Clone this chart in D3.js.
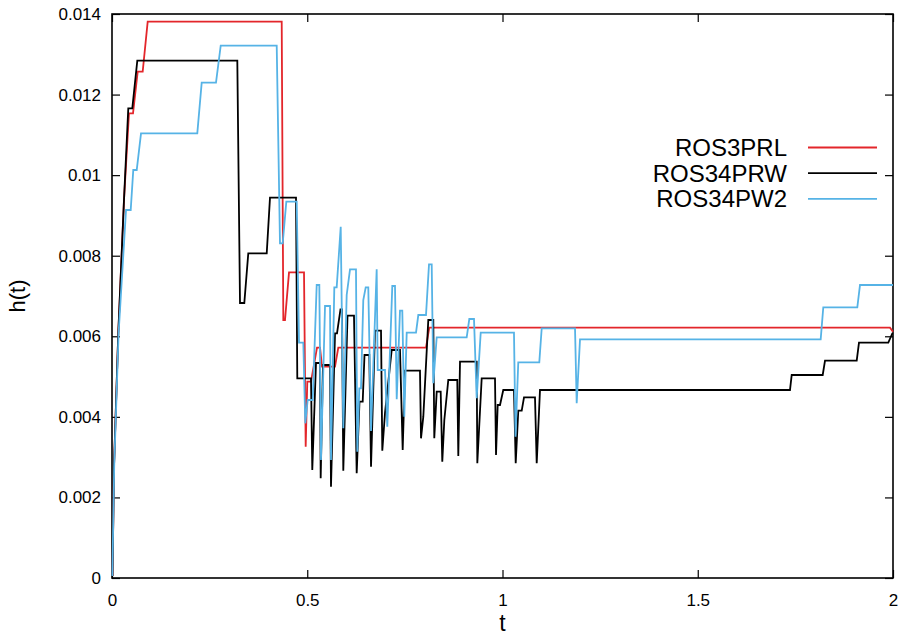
<!DOCTYPE html>
<html>
<head>
<meta charset="utf-8">
<script src="https://cdn.jsdelivr.net/npm/d3@7"></script>
<style>
  body { margin: 0; background: #fff; }
  svg { display: block; font-family: "Liberation Sans", Arial, Helvetica, sans-serif; }
</style>
</head>
<body>
<svg id="chart" width="901" height="635"></svg>
<script>
// step size h(t) of three Rosenbrock solvers, corner points
var seriesNames = ['ROS3PRL', 'ROS34PRW', 'ROS34PW2'];

var tRed = [0.0013, 0.0051, 0.0161, 0.0307, 0.0435, 0.0538, 0.0658, 0.0786, 0.0914, 0.4346,
  0.4387, 0.4430, 0.4533, 0.4917, 0.4960, 0.5001, 0.5096, 0.5250, 0.5327, 0.5378,
  0.5711, 0.5795, 0.8041, 0.8125, 1.9923, 2.0];
var hRed = [0.00005, 0.002755, 0.006082, 0.009383, 0.011535, 0.011535, 0.012568, 0.012568, 0.013809, 0.013809,
  0.006404, 0.006404, 0.007588, 0.007588, 0.003259, 0.004873, 0.004873, 0.005717, 0.005717, 0.005245,
  0.005245, 0.005717, 0.005717, 0.006213, 0.006213, 0.006114];

var tBlack = [0.0013, 0.0051, 0.0161, 0.0307, 0.0417, 0.0520, 0.0648, 0.3209, 0.3278, 0.3388,
  0.3490, 0.3962, 0.4046, 0.4712, 0.4745, 0.5096, 0.5129, 0.5224, 0.5327, 0.5344,
  0.5403, 0.5583, 0.5608, 0.5711, 0.5762, 0.5851, 0.5890, 0.5923, 0.6031, 0.6197,
  0.6266, 0.6338, 0.6420, 0.6466, 0.6589, 0.6633, 0.6735, 0.6889, 0.6922, 0.6991,
  0.7163, 0.7375, 0.7444, 0.7503, 0.7887, 0.7913, 0.7972, 0.8100, 0.8228, 0.8253,
  0.8315, 0.8417, 0.8458, 0.8510, 0.8612, 0.8842, 0.8868, 0.8912, 0.9339, 0.9355,
  0.9467, 0.9808, 0.9834, 0.9877, 0.9936, 1.0020, 1.0294, 1.0338, 1.0404, 1.0492,
  1.0551, 1.0832, 1.0876, 1.0960, 1.7362, 1.7406, 1.8200, 1.8259, 1.9071, 1.9129,
  1.9880, 1.9987];
var hBlack = [0.00005, 0.002755, 0.006082, 0.009383, 0.011659, 0.011659, 0.012841, 0.012841, 0.006826, 0.006826,
  0.008060, 0.008060, 0.009440, 0.009440, 0.004957, 0.004957, 0.002681, 0.005337, 0.005337, 0.002475,
  0.005287, 0.005287, 0.002266, 0.006074, 0.006074, 0.006670, 0.006670, 0.002664, 0.006511, 0.006511,
  0.002599, 0.004376, 0.004376, 0.005536, 0.005536, 0.002763, 0.006139, 0.006139, 0.003160, 0.004096,
  0.005660, 0.005660, 0.003177, 0.005146, 0.005146, 0.003468, 0.004004, 0.006404, 0.006404, 0.003468,
  0.004625, 0.004625, 0.002887, 0.003922, 0.004915, 0.004915, 0.003028, 0.005369, 0.005369, 0.002847,
  0.004957, 0.004957, 0.003053, 0.004294, 0.004294, 0.004667, 0.004667, 0.002847, 0.004153, 0.004153,
  0.004485, 0.004485, 0.002847, 0.004667, 0.004667, 0.005039, 0.005039, 0.005394, 0.005394, 0.005841,
  0.005841, 0.006082];

var tBlue = [0.0008, 0.0056, 0.0169, 0.0359, 0.0479, 0.0545, 0.0633, 0.0743, 0.2184, 0.2297,
  0.2663, 0.2784, 0.4218, 0.4302, 0.4371, 0.4464, 0.4730, 0.4789, 0.4899, 0.4950,
  0.5011, 0.5140, 0.5242, 0.5309, 0.5352, 0.5455, 0.5583, 0.5608, 0.5693, 0.5754,
  0.5857, 0.5923, 0.6010, 0.6095, 0.6248, 0.6282, 0.6333, 0.6376, 0.6435, 0.6497,
  0.6563, 0.6633, 0.6778, 0.6804, 0.6991, 0.7050, 0.7178, 0.7247, 0.7291, 0.7375,
  0.7434, 0.7485, 0.7547, 0.7785, 0.7844, 0.8041, 0.8118, 0.8187, 0.8228, 0.8315,
  0.9083, 0.9150, 0.9270, 0.9339, 0.9442, 1.0294, 1.0333, 1.0404, 1.0942, 1.1004,
  1.1857, 1.1900, 1.1985, 1.8148, 1.8215, 1.9086, 1.9155, 2.0];
var hBlue = [0.00005, 0.002755, 0.006082, 0.009135, 0.009135, 0.010128, 0.010128, 0.011039, 0.011039, 0.012295,
  0.012295, 0.013213, 0.013213, 0.008308, 0.008308, 0.009341, 0.009341, 0.005841, 0.005841, 0.003840,
  0.004418, 0.004418, 0.007273, 0.007273, 0.002929, 0.006752, 0.006752, 0.002929, 0.007216, 0.007216,
  0.008720, 0.003716, 0.007025, 0.007663, 0.007663, 0.003135, 0.004709, 0.004709, 0.006901, 0.007216,
  0.007216, 0.003649, 0.007663, 0.005163, 0.005163, 0.003756, 0.007248, 0.007248, 0.004436, 0.006635,
  0.006635, 0.004004, 0.006089, 0.006089, 0.006528, 0.006528, 0.007787, 0.007787, 0.004833, 0.005975,
  0.005975, 0.006429, 0.006429, 0.004461, 0.006089, 0.006089, 0.003507, 0.005354, 0.005354, 0.006198,
  0.006198, 0.004337, 0.005925, 0.005925, 0.006720, 0.006720, 0.007273, 0.007273];

var xTicks = [0, 0.5, 1, 1.5, 2];
var xTickLabels = ['0', '0.5', '1', '1.5', '2'];
var yTicks = [0, 0.002, 0.004, 0.006, 0.008, 0.01, 0.012, 0.014];
var yTickLabels = ['0', '0.002', '0.004', '0.006', '0.008', '0.01', '0.012', '0.014'];

var colors = ['#e3262b', '#000000', '#56b3e6'];

var svg = d3.select('#chart');
var plotL = 112, plotR = 893, plotT = 14, plotB = 578;
var fontFam = '"Liberation Sans", Arial, Helvetica, sans-serif';

var x = d3.scaleLinear().domain([0, 2]).range([plotL, plotR]);
var y = d3.scaleLinear().domain([0, 0.014]).range([plotB, plotT]);

function styleAxis(g) {
  g.attr('font-size', 17).attr('font-family', fontFam);
  g.selectAll('.domain').remove();
  g.selectAll('line').attr('stroke', '#000').attr('stroke-width', 1.2);
  g.selectAll('text').attr('fill', '#000');
}

// axes, ticks pointing inwards on all four sides
svg.append('g')
  .attr('transform', 'translate(0,' + plotB + ')')
  .call(d3.axisBottom(x).tickValues(xTicks).tickFormat(function (d, i) { return xTickLabels[i]; })
    .tickSizeInner(-8).tickSizeOuter(0).tickPadding(16))
  .call(styleAxis);
svg.append('g')
  .attr('transform', 'translate(0,' + plotT + ')')
  .call(d3.axisTop(x).tickValues(xTicks).tickFormat('').tickSizeInner(-8).tickSizeOuter(0))
  .call(styleAxis);
svg.append('g')
  .attr('transform', 'translate(' + plotL + ',0)')
  .call(d3.axisLeft(y).tickValues(yTicks).tickFormat(function (d, i) { return yTickLabels[i]; })
    .tickSizeInner(-8).tickSizeOuter(0).tickPadding(11))
  .call(styleAxis);
svg.append('g')
  .attr('transform', 'translate(' + plotR + ',0)')
  .call(d3.axisRight(y).tickValues(yTicks).tickFormat('').tickSizeInner(-8).tickSizeOuter(0))
  .call(styleAxis);

svg.append('rect')
  .attr('x', plotL).attr('y', plotT)
  .attr('width', plotR - plotL).attr('height', plotB - plotT)
  .attr('fill', 'none').attr('stroke', '#000').attr('stroke-width', 1.6);

// lines
var line = d3.line().x(function (d) { return x(d[0]); }).y(function (d) { return y(d[1]); });
var allT = [tRed, tBlack, tBlue];
var allH = [hRed, hBlack, hBlue];

for (var i = 0; i < 3; i++) {
  var pts = d3.zip(allT[i], allH[i]);
  svg.append('path')
    .datum(pts)
    .attr('d', line)
    .attr('fill', 'none')
    .attr('stroke', colors[i])
    .attr('stroke-width', 1.8)
    .attr('stroke-linejoin', 'miter');
}

// legend
var legend = svg.append('g');
seriesNames.forEach(function (name, i) {
  var ly = 147.5 + i * 25.7;
  legend.append('text')
    .attr('x', 787).attr('y', ly).attr('dy', '0.35em')
    .attr('text-anchor', 'end')
    .style('font-size', '24px')
    .text(name);
  legend.append('line')
    .attr('x1', 808).attr('x2', 877)
    .attr('y1', ly).attr('y2', ly)
    .attr('stroke', colors[i]).attr('stroke-width', 1.8);
});

// axis titles
svg.append('text')
  .attr('x', (plotL + plotR) / 2).attr('y', 631)
  .attr('text-anchor', 'middle')
  .style('font-size', '23px')
  .text('t');
svg.append('text')
  .attr('transform', 'translate(25,' + ((plotT + plotB) / 2) + ') rotate(-90)')
  .attr('text-anchor', 'middle')
  .style('font-size', '22px')
  .text('h(t)');
</script>
</body>
</html>
